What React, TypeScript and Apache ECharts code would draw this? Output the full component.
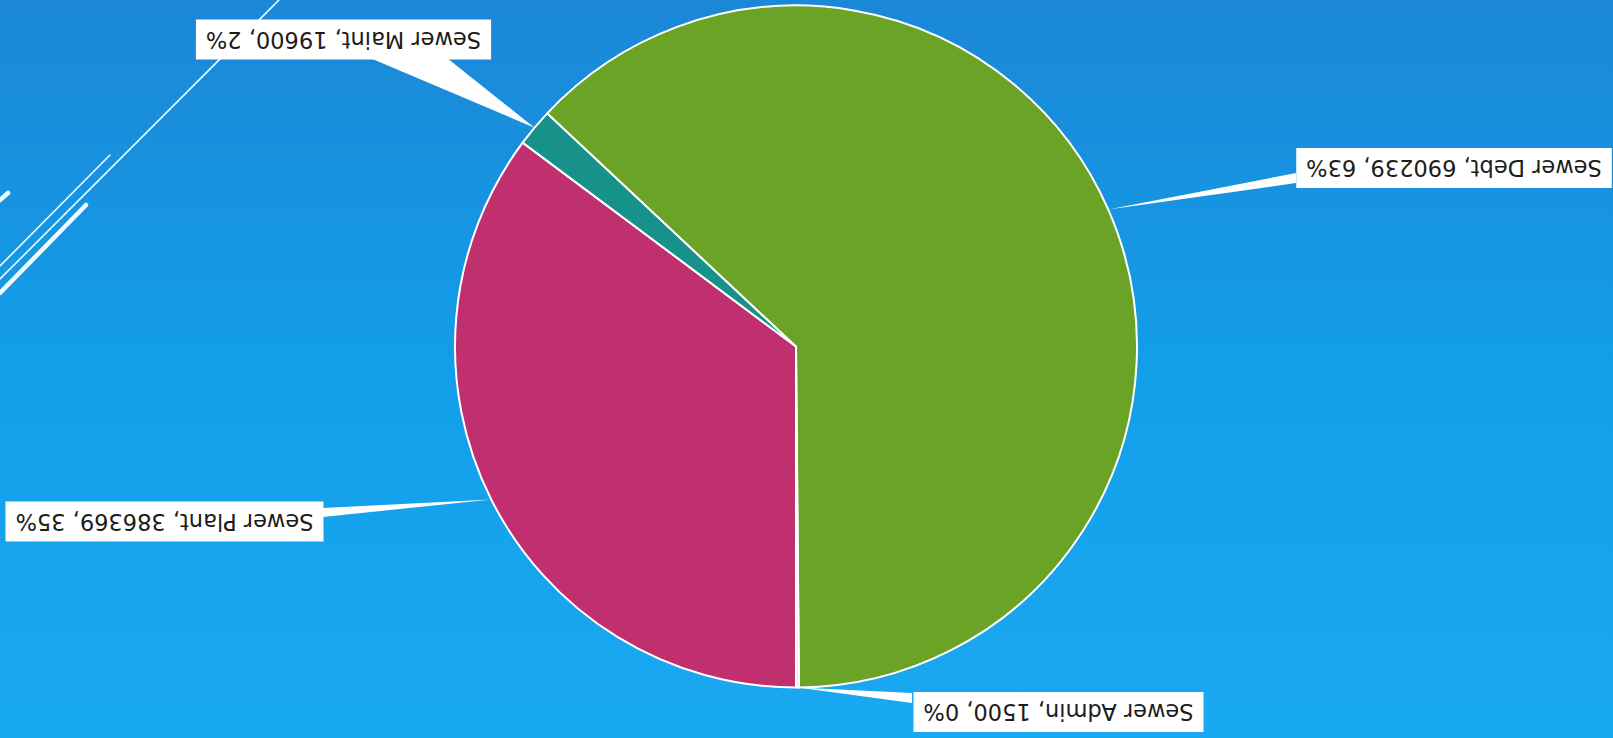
import React, { useEffect, useRef } from "react";
import * as echarts from "echarts";

const W = 1613;
const H = 738;

// Data (slice order clockwise from the start angle)
const categories = ["Sewer Plant", "Sewer Maint", "Sewer Debt", "Sewer Admin"];
const values = [386369, 19600, 690239, 1500];
const sliceColors = ["#c0306e", "#17928a", "#6aa326", "#dde5ee"];

// Layout (in the photographed, upside-down frame)
const pieCenterRef = [796, 346.5];
const pieRadius = 341;
const labelBoxesRef = [
  [6, 501, 323, 542],
  [195, 21, 492, 58],
  [1296, 148, 1612, 188],
  [912, 692, 1205, 732],
];
const wedgeBasesRef = [
  [[323, 508], [323, 517]],
  [[370, 58], [447, 58]],
  [[1296, 173], [1296, 183]],
  [[912, 693], [912, 703]],
];
const decoLinesRef = [
  { x1: 279, y1: 0, x2: 0, y2: 279, w: 1.6 },
  { x1: 110, y1: 155, x2: 0, y2: 266, w: 1.6 },
  { x1: 86, y1: 205, x2: 0, y2: 293, w: 4.5 },
  { x1: 8, y1: 193, x2: 0, y2: 200, w: 4.5 },
];

const flip = (p: number[]) => [W - p[0], H - p[1]];

export default function App() {
  const ref = useRef<HTMLDivElement>(null);

  useEffect(() => {
    if (!ref.current) return;
    const chart = echarts.init(ref.current, null, { renderer: "svg" });
    const center = flip(pieCenterRef);
    const total = values.reduce((a, b) => a + b, 0);
    let cum = 0;
    const tips = values.map((v) => {
      const th = (2 * Math.PI * (cum + v / 2)) / total;
      cum += v;
      return [center[0] + pieRadius * Math.sin(th), center[1] - pieRadius * Math.cos(th)];
    });

    const wedges = tips.map((tip, i) => ({
      type: "polygon",
      z: 1,
      silent: true,
      shape: {
        points: [tip, flip(wedgeBasesRef[i][0]), flip(wedgeBasesRef[i][1])],
      },
      style: { fill: "#ffffff" },
    }));

    const deco = decoLinesRef.map((l) => {
      const a = flip([l.x1, l.y1]);
      const b = flip([l.x2, l.y2]);
      return {
        type: "line",
        z: 0,
        silent: true,
        shape: { x1: a[0], y1: a[1], x2: b[0], y2: b[1] },
        style: { stroke: "rgba(255,255,255,0.95)", lineWidth: l.w, lineCap: "round" },
      };
    });

    chart.setOption({
      animation: false,
      backgroundColor: {
        type: "linear",
        x: 0,
        y: 0,
        x2: 0,
        y2: 1,
        colorStops: [
          { offset: 0, color: "#19a9f1" },
          { offset: 0.5, color: "#139ee9" },
          { offset: 1, color: "#1b87d7" },
        ],
      },
      graphic: [...deco, ...wedges],
      series: [
        {
          type: "pie",
          center: center,
          radius: pieRadius,
          startAngle: 90,
          clockwise: true,
          percentPrecision: 0,
          silent: true,
          emphasis: { disabled: true },
          itemStyle: { borderColor: "#ffffff", borderWidth: 2 },
          label: {
            show: true,
            position: "outside",
            formatter: "{b}, {c}, {d}%",
            backgroundColor: "#ffffff",
            color: "#1c1c1c",
            fontFamily: "DejaVu Sans",
            fontSize: 22.5,
            lineHeight: 22,
            padding: [9, 10, 9, 10],
          },
          labelLine: { show: false },
          labelLayout: (params: any) => {
            const b = labelBoxesRef[params.dataIndex];
            const c = flip([(b[0] + b[2]) / 2, (b[1] + b[3]) / 2]);
            return { x: c[0], y: c[1], align: "center", verticalAlign: "middle" };
          },
          data: categories.map((name, i) => ({
            name,
            value: values[i],
            itemStyle: { color: sliceColors[i] },
          })),
        },
      ],
    });
    return () => chart.dispose();
  }, []);

  return (
    <div style={{ position: "fixed", left: 0, top: 0, width: W, height: H, overflow: "hidden" }}>
      <div
        ref={ref}
        style={{ width: W, height: H, transform: "rotate(180deg)", transformOrigin: "50% 50%" }}
      />
    </div>
  );
}
